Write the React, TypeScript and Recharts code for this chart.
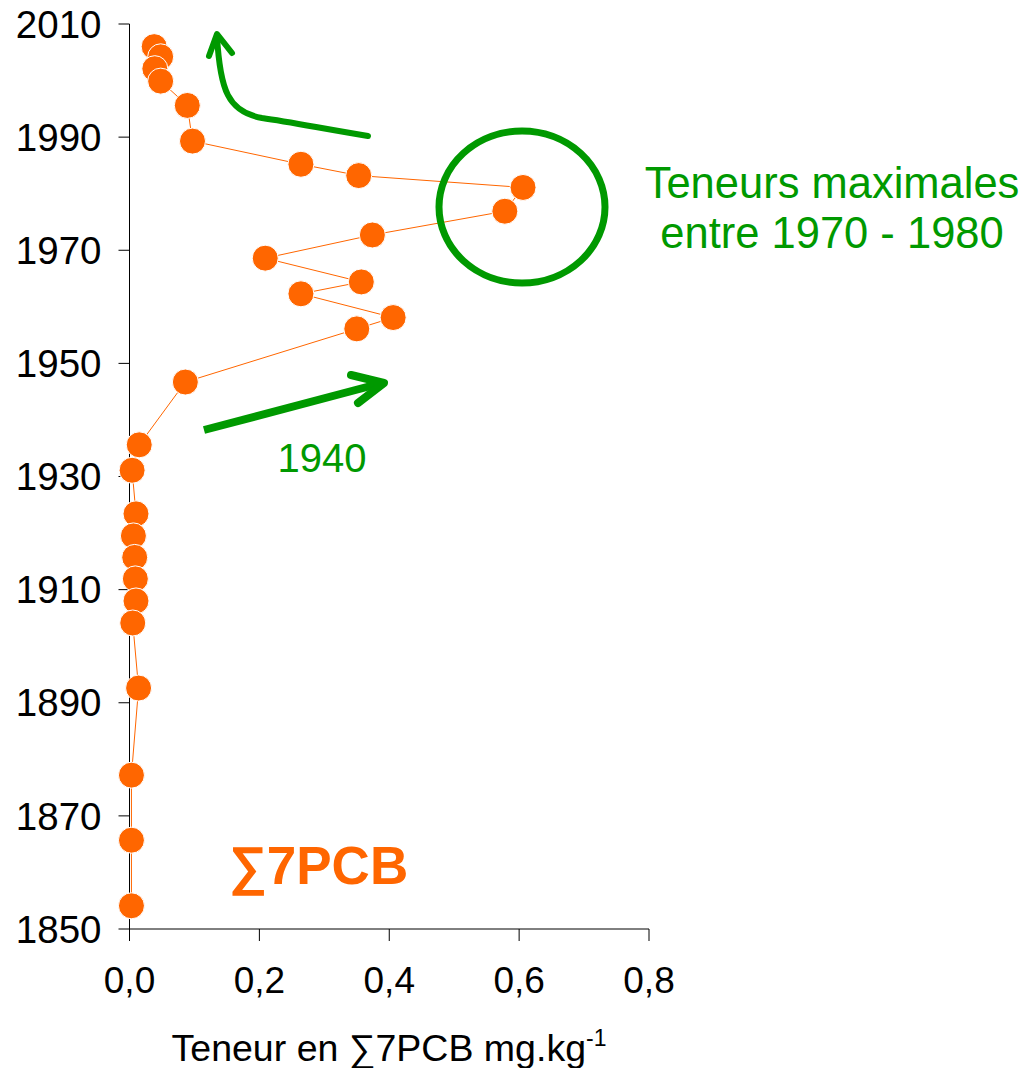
import { Scatter, ScatterChart, XAxis, YAxis } from "recharts";

// years read from the sediment core, top to bottom
const years = [
  2006.0, 2004.2, 2002.1, 1999.9, 1995.6, 1989.3, 1985.2, 1983.2, 1981.1,
  1976.9, 1972.7, 1968.6, 1964.4, 1962.3, 1958.1, 1956.1, 1946.7, 1935.6,
  1931.1, 1923.4, 1919.5, 1915.7, 1911.9, 1908.0, 1904.1, 1892.6, 1877.2,
  1865.7, 1854.1,
];

// sum of 7 PCB, mg/kg
const pcbValues = [
  0.038, 0.048, 0.039, 0.048, 0.089, 0.097, 0.264, 0.353, 0.606, 0.578,
  0.374, 0.209, 0.357, 0.264, 0.406, 0.35, 0.086, 0.015, 0.004, 0.01,
  0.006, 0.008, 0.009, 0.01, 0.005, 0.014, 0.003, 0.003, 0.003,
];

const yearTicks = [1850, 1870, 1890, 1910, 1930, 1950, 1970, 1990, 2010];
const pcbTicks = [0, 0.2, 0.4, 0.6, 0.8];

const ORANGE = "#FF6600";
const GREEN = "#009900";
const FONT = "'Liberation Sans', Arial, sans-serif";

const formatPcb = (v: number) => v.toFixed(1).replace(".", ",");

const Dot = (props: any) => {
  const { cx, cy } = props;
  if (cx == null || cy == null) return null;
  return <circle cx={cx} cy={cy} r={13} fill={ORANGE} stroke="#fff" strokeWidth={1} />;
};

export default function App() {
  const data = years.map((year, i) => ({ pcb: pcbValues[i], year }));

  return (
    <div style={{ position: "absolute", left: 0, top: 0, width: 1022, height: 1068, background: "#fff" }}>
      <ScatterChart
        width={1022}
        height={1068}
        margin={{ top: 24, right: 373, bottom: 0, left: 0 }}
      >
        <XAxis
          type="number"
          dataKey="pcb"
          domain={[0, 0.8]}
          ticks={pcbTicks}
          tickFormatter={formatPcb}
          height={139}
          tickSize={12}
          tickMargin={26}
          axisLine={{ stroke: "#000", strokeWidth: 1 }}
          tickLine={{ stroke: "#000", strokeWidth: 1 }}
          tick={{ fill: "#000", fontSize: 37, fontFamily: FONT }}
          interval={0}
        />
        <YAxis
          type="number"
          dataKey="year"
          domain={[1850, 2010]}
          ticks={yearTicks}
          width={129.5}
          tickSize={11}
          tickMargin={17}
          axisLine={{ stroke: "#000", strokeWidth: 1 }}
          tickLine={{ stroke: "#000", strokeWidth: 1 }}
          tick={{ fill: "#000", fontSize: 38.5, fontFamily: FONT }}
          interval={0}
        />
        <Scatter
          data={data}
          line={{ stroke: ORANGE, strokeWidth: 1 }}
          shape={Dot}
          isAnimationActive={false}
        />
      </ScatterChart>

      <svg
        width={1022}
        height={1068}
        style={{ position: "absolute", left: 0, top: 0, pointerEvents: "none" }}
      >
        {/* annotations */}
        <ellipse cx={522} cy={207} rx={83} ry={76} fill="none" stroke={GREEN} strokeWidth={7} />
        <path
          d="M 368 136 C 320 128, 290 122, 262 118 C 228 112, 220 90, 217 36"
          fill="none"
          stroke={GREEN}
          strokeWidth={6}
          strokeLinecap="round"
        />
        <path
          d="M 209 56 L 217 34 L 232 53"
          fill="none"
          stroke={GREEN}
          strokeWidth={6}
          strokeLinecap="round"
          strokeLinejoin="round"
        />
        <path d="M 204 430 L 382 383" stroke={GREEN} strokeWidth={8} strokeLinecap="butt" />
        <path
          d="M 351 375 L 384 383 L 358 403"
          fill="none"
          stroke={GREEN}
          strokeWidth={8}
          strokeLinecap="round"
          strokeLinejoin="round"
        />
        <text x={322} y={472} textAnchor="middle" fill={GREEN} fontSize={40} fontFamily={FONT}>
          1940
        </text>
        <text x={832} y={198} textAnchor="middle" fill={GREEN} fontSize={43.5} fontFamily={FONT}>
          Teneurs maximales
        </text>
        <text x={832} y={248} textAnchor="middle" fill={GREEN} fontSize={43.5} fontFamily={FONT}>
          entre 1970 - 1980
        </text>
        <text x={229} y={884} fill={ORANGE} fontSize={53} fontWeight="bold" fontFamily={FONT}>
          ∑7PCB
        </text>
        <text x={389} y={1061} textAnchor="middle" fill="#000" fontSize={37.5} fontFamily={FONT}>
          Teneur en ∑7PCB mg.kg
          <tspan fontSize={23} dy={-15}>-1</tspan>
        </text>
      </svg>
    </div>
  );
}
